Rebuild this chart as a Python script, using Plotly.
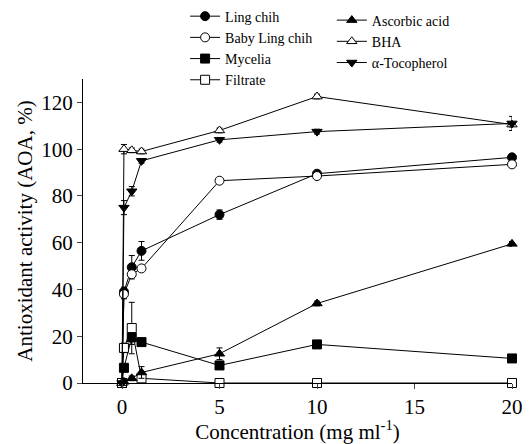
import plotly.graph_objects as go

conc = [0, 0.1, 0.5, 1, 5, 10, 20]

ling_chih = [0, 39, 49.5, 56.5, 72, 89.5, 96.5]
ling_chih_err = [0, 2, 5, 4, 2, 1, 1]
baby_ling_chih = [0, 38, 46.5, 49, 86.5, 88.5, 93.5]
baby_err = [0, 2, 1, 1, 1, 1, 1]
mycelia = [0, 6.5, 19.5, 17.5, 7.5, 16.5, 10.5]
mycelia_err = [0, 1, 3, 1, 1, 1, 1]
filtrate = [0, 15, 23.5, 2, 0, 0, 0]
filtrate_err = [0, 2, 11, 1, 0, 0, 0]
ascorbic = [0, 0.5, 2, 4.5, 12.5, 34, 59.5]
ascorbic_err = [0, 0.5, 1, 2.5, 2.5, 1, 1]
bha = [0, 100, 99.5, 99, 108, 122.5, 110.5]
bha_err = [0, 2, 1, 1, 1, 1, 1]
tocopherol = [0, 75, 82, 95, 104, 107.5, 111]
tocopherol_err = [0, 3, 2, 1, 1, 1, 3]

x_ticks = [0, 5, 10, 15, 20]
y_ticks = [0, 20, 40, 60, 80, 100, 120]

FONT = "'Liberation Serif', 'Times New Roman', serif"

series = [
    ("Ling chih", ling_chih, ling_chih_err, "circle", "legend"),
    ("Baby Ling chih", baby_ling_chih, baby_err, "circle-open", "legend"),
    ("Mycelia", mycelia, mycelia_err, "square", "legend"),
    ("Filtrate", filtrate, filtrate_err, "square-open", "legend"),
    ("Ascorbic acid", ascorbic, ascorbic_err, "triangle-up", "legend2"),
    ("BHA", bha, bha_err, "triangle-up-open", "legend2"),
    ("\u03b1-Tocopherol", tocopherol, tocopherol_err, "triangle-down", "legend2"),
]

fig = go.Figure()
for name, ys, err, sym, lg in series:
    is_open = sym.endswith("open")
    fig.add_trace(go.Scatter(
        x=conc, y=ys, name=name, mode="lines+markers",
        line=dict(color="black", width=1),
        marker=dict(symbol=sym.replace("-open", "") if is_open else sym,
                    size=9, color="white" if is_open else "black",
                    line=dict(color="black", width=1)),
        error_y=dict(type="data", array=err, visible=True, color="black",
                     thickness=1, width=3),
        legend=lg, cliponaxis=False,
    ))

fig.update_layout(
    width=523, height=436,
    margin=dict(l=75, r=19, t=71, b=61, autoexpand=False),
    paper_bgcolor="white", plot_bgcolor="white",
    font=dict(family=FONT, size=21, color="black"),
    showlegend=True,
    legend=dict(x=0.238, y=1.258, xanchor="left", yanchor="top",
                font=dict(family=FONT, size=14), itemwidth=30,
                bgcolor="rgba(0,0,0,0)", tracegroupgap=0),
    legend2=dict(x=0.58, y=1.245, xanchor="left", yanchor="top",
                 font=dict(family=FONT, size=14), itemwidth=30,
                 bgcolor="rgba(0,0,0,0)", tracegroupgap=0),
    xaxis=dict(range=[-2, 20], tickvals=x_ticks, ticks="outside", ticklen=5,
               showline=True, linecolor="black", linewidth=1, showgrid=False,
               zeroline=False, automargin=False,
               tickfont=dict(family=FONT, size=21),
               title=dict(text="Concentration (mg ml<sup>-1</sup>)",
                          standoff=3, font=dict(family=FONT, size=21))),
    yaxis=dict(range=[0, 130], tickvals=y_ticks, ticks="outside", ticklen=5,
               showline=True, linecolor="black", linewidth=1, showgrid=False,
               zeroline=False, automargin=False,
               tickfont=dict(family=FONT, size=21),
               title=dict(text="Antioxidant activity (AOA, %)",
                          standoff=2, font=dict(family=FONT, size=21))),
)

fig.write_html("out.html")
